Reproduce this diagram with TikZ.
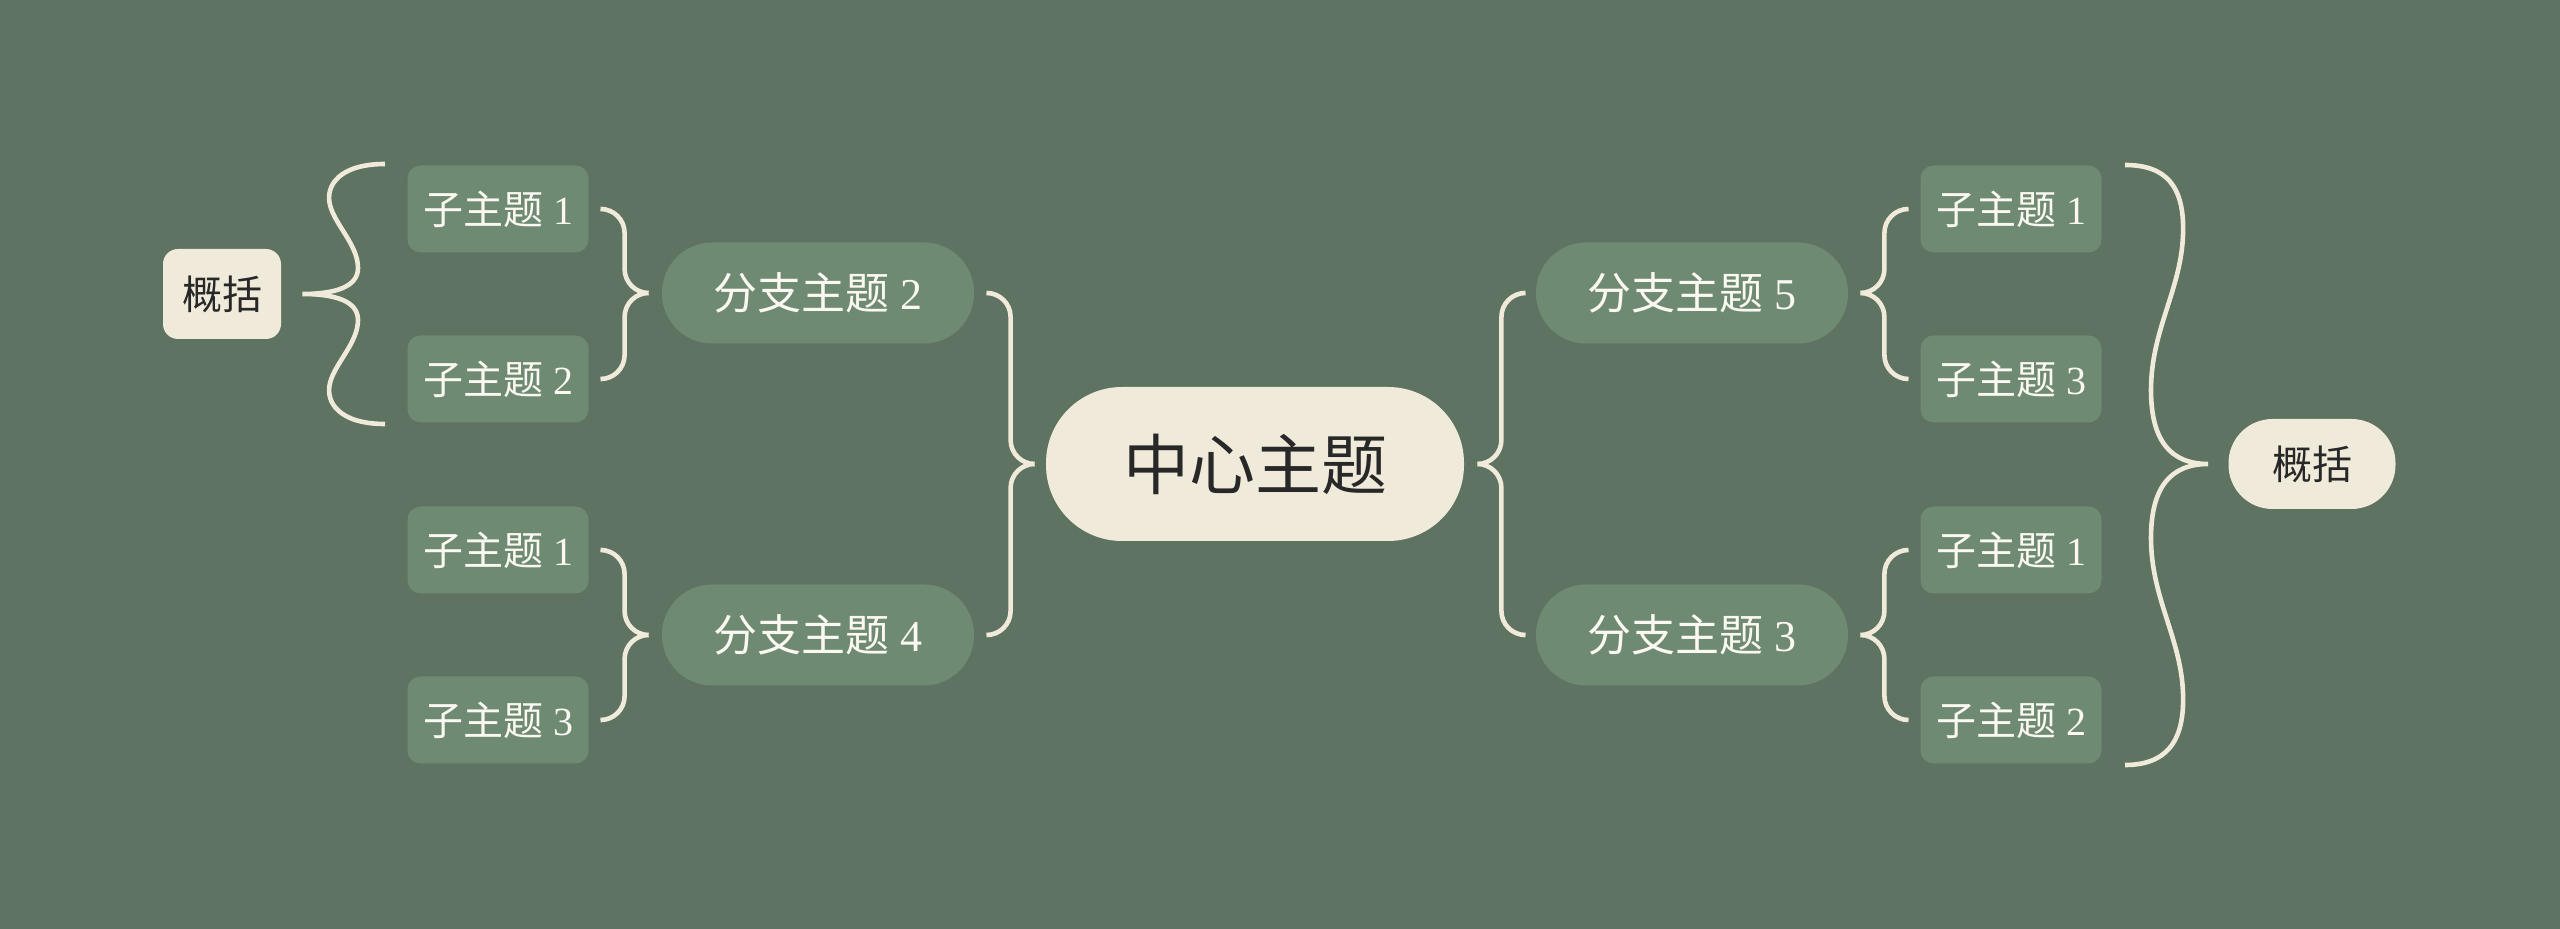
\documentclass[tikz,border=0pt]{standalone}
\usepackage{fontspec}
\setmainfont{Liberation Serif}
\newfontfamily\cjk{Noto Sans CJK SC}
\usepackage{tikz}
\usetikzlibrary{
    positioning,
    calc
}
\definecolor{BgGreen}{RGB}{95,115,98}
\definecolor{NodeGreen}{RGB}{110,138,115}
\definecolor{Cream}{RGB}{239,234,217}
\definecolor{TextDark}{RGB}{40,40,40}
\definecolor{TextLight}{RGB}{250,248,240}

\begin{document}
\begin{tikzpicture}[
            x=0.5pt, y=-0.5pt,
            every node/.style={inner sep=0pt},
            central/.style={fill=Cream, text=TextDark, minimum width=209pt, minimum height=77pt,
                rounded corners=38pt, font=\fontsize{33}{40}\selectfont},
            branch/.style={fill=NodeGreen, text=TextLight, minimum width=156pt, minimum height=50.5pt,
                rounded corners=25pt, font=\fontsize{22}{26}\selectfont},
            leaf/.style={fill=NodeGreen, text=TextLight, minimum width=90.5pt, minimum height=43.5pt,
                rounded corners=6.5pt, font=\fontsize{20}{24}\selectfont},
            summary/.style={fill=Cream, text=TextDark, minimum height=45pt, font=\fontsize{20}{24}\selectfont},
            brace/.style={draw=Cream, line width=2.3pt, rounded corners=12pt},
            bigbrace/.style={draw=Cream, line width=2.3pt},
        ]
          % Background
          \fill[BgGreen] (0,0) rectangle (2560,929);
          \useasboundingbox (0,0) rectangle (2560,929);

          % Central topic
          \node[central] (c) at (1255,464) {\cjk 中心主题};

          % Branches
          \node[branch] (b2) at (818,293) {{\cjk 分支主题} 2};
          \node[branch] (b4) at (818,635) {{\cjk 分支主题} 4};
          \node[branch] (b5) at (1692,293) {{\cjk 分支主题} 5};
          \node[branch] (b3) at (1692,635) {{\cjk 分支主题} 3};

          % Left leaves
          \node[leaf] (l21) at (498,209) {{\cjk 子主题} 1};
          \node[leaf] (l22) at (498,379) {{\cjk 子主题} 2};
          \node[leaf] (l41) at (498,550) {{\cjk 子主题} 1};
          \node[leaf] (l43) at (498,720) {{\cjk 子主题} 3};

          % Right leaves
          \node[leaf] (r51) at (2011,209) {{\cjk 子主题} 1};
          \node[leaf] (r53) at (2011,379) {{\cjk 子主题} 3};
          \node[leaf] (r31) at (2011,550) {{\cjk 子主题} 1};
          \node[leaf] (r32) at (2011,720) {{\cjk 子主题} 2};

          % Summaries
          \node[summary, minimum width=59pt, rounded corners=7.5pt] (sumL) at (222,294) {\cjk 概括};
          \node[summary, minimum width=83.5pt, rounded corners=22pt] (sumR) at (2312,464) {\cjk 概括};

          % Braces, centre to branches
          \draw[brace] ($(b2.east)+(13,0)$) -| ($(c.west)+(-35,0)$) -- ($(c.west)+(-11,0)$)
                       ($(b4.east)+(13,0)$) -| ($(c.west)+(-35,0)$) -- ($(c.west)+(-11,0)$);
          \draw[brace] ($(b5.west)+(-12,0)$) -| ($(c.east)+(37,0)$) -- ($(c.east)+(13,0)$)
                       ($(b3.west)+(-12,0)$) -| ($(c.east)+(37,0)$) -- ($(c.east)+(13,0)$);

          % Braces, branches to leaves
          \draw[brace] ($(l21.east)+(13,0)$) -| ($(b2.west)+(-37,0)$) -- ($(b2.west)+(-13,0)$)
                       ($(l22.east)+(13,0)$) -| ($(b2.west)+(-37,0)$) -- ($(b2.west)+(-13,0)$);
          \draw[brace] ($(l41.east)+(13,0)$) -| ($(b4.west)+(-37,0)$) -- ($(b4.west)+(-13,0)$)
                       ($(l43.east)+(13,0)$) -| ($(b4.west)+(-37,0)$) -- ($(b4.west)+(-13,0)$);
          \draw[brace] ($(r51.west)+(-12,0)$) -| ($(b5.east)+(36,0)$) -- ($(b5.east)+(12,0)$)
                       ($(r53.west)+(-12,0)$) -| ($(b5.east)+(36,0)$) -- ($(b5.east)+(12,0)$);
          \draw[brace] ($(r31.west)+(-12,0)$) -| ($(b3.east)+(36,0)$) -- ($(b3.east)+(12,0)$)
                       ($(r32.west)+(-12,0)$) -| ($(b3.east)+(36,0)$) -- ($(b3.east)+(12,0)$);

          % Summary braces
          \coordinate (tipL) at ($(sumL.east)+(21,0)$);
          \coordinate (tipR) at ($(sumR.west)+(-20,0)$);
          \draw[bigbrace]
            (385,164) .. controls (340,164) and (325,185) .. (330,205)
            .. controls (335,225) and (358,245) .. (358,268)
            .. controls (358,287) and (335,294) .. (tipL)
            .. controls (335,294) and (358,301) .. (358,320)
            .. controls (358,343) and (335,363) .. (330,383)
            .. controls (325,403) and (340,424) .. (385,424);
          \draw[bigbrace]
            (2125,165) .. controls (2165,165) and (2185,185) .. (2183,235)
            .. controls (2181,290) and (2151,330) .. (2151,390)
            .. controls (2151,440) and (2170,464) .. (tipR)
            .. controls (2170,464) and (2151,488) .. (2151,538)
            .. controls (2151,598) and (2181,638) .. (2183,693)
            .. controls (2185,743) and (2165,765) .. (2125,765);
        \end{tikzpicture}
\end{document}
